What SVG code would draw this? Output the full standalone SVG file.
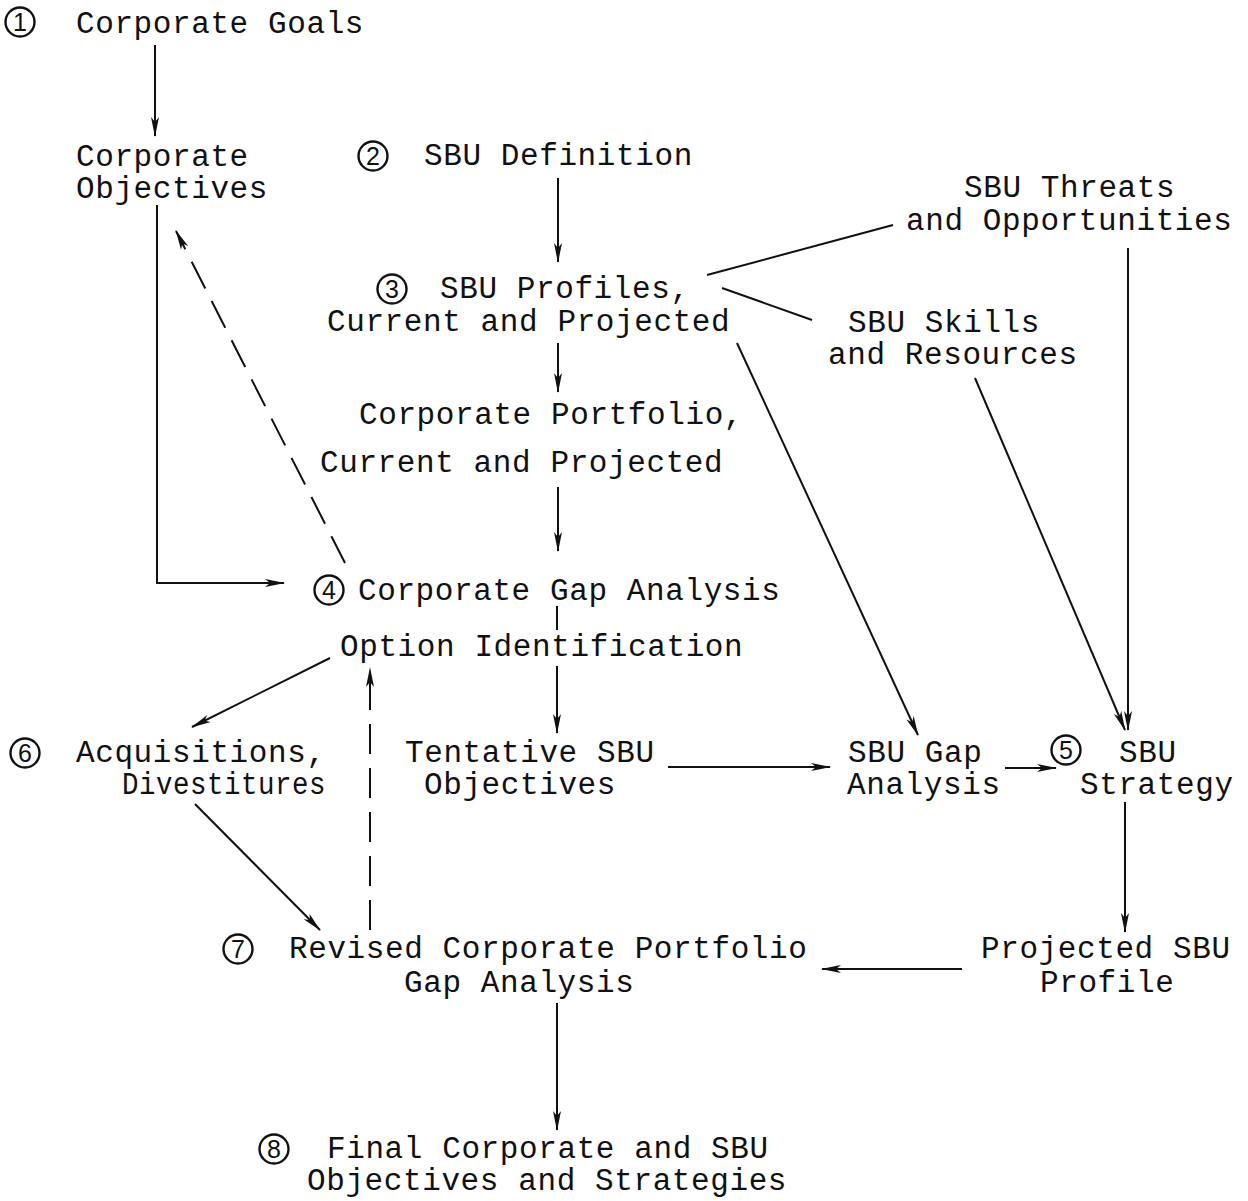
<svg xmlns="http://www.w3.org/2000/svg" width="1248" height="1201" viewBox="0 0 1248 1201">
<style>
text{font-family:"Liberation Mono","Courier New",monospace;font-size:31px;letter-spacing:0.6px;fill:#111}
.n{font-family:"Liberation Sans",Arial,sans-serif;font-size:25px;letter-spacing:0;text-anchor:middle}
.c{fill:none;stroke:#111;stroke-width:2.4}
.l{fill:none;stroke:#111;stroke-width:2}
.d{stroke-dasharray:30 14}
</style>
<defs>
<marker id="a" viewBox="0 0 20 10" refX="19" refY="5" markerWidth="20" markerHeight="10" markerUnits="userSpaceOnUse" orient="auto">
<path d="M0,1 L20,5 L0,9 L5,5 Z" fill="#111"/>
</marker>
</defs>
<rect width="1248" height="1201" fill="#fff"/>
<g id="connectors">
<path class="l" d="M155,45 V136" marker-end="url(#a)"/>
<path class="l" d="M157,205 V583 H284" marker-end="url(#a)"/>
<path class="l d" d="M345,563 L176,231" marker-end="url(#a)"/>
<path class="l" d="M558,178 V262" marker-end="url(#a)"/>
<path class="l" d="M707,275 L893,225"/>
<path class="l" d="M722,288 L812,320"/>
<path class="l" d="M558,343 V392" marker-end="url(#a)"/>
<path class="l" d="M558,487 V551" marker-end="url(#a)"/>
<path class="l" d="M557,606 V630"/>
<path class="l" d="M557,666 V733" marker-end="url(#a)"/>
<path class="l" d="M330,658 L192,727" marker-end="url(#a)"/>
<path class="l d" d="M370,930 V668" marker-end="url(#a)"/>
<path class="l" d="M195,804 L320,930" marker-end="url(#a)"/>
<path class="l" d="M668,767 H830" marker-end="url(#a)"/>
<path class="l" d="M1005,768 H1056" marker-end="url(#a)"/>
<path class="l" d="M737,343 L918,735" marker-end="url(#a)"/>
<path class="l" d="M975,378 L1125,730" marker-end="url(#a)"/>
<path class="l" d="M1128,248 V730" marker-end="url(#a)"/>
<path class="l" d="M1125,802 V932" marker-end="url(#a)"/>
<path class="l" d="M962,969 H822" marker-end="url(#a)"/>
<path class="l" d="M557,1003 V1130" marker-end="url(#a)"/>
</g>
<g id="n1"><circle class="c" cx="20" cy="22" r="14.5"/><text class="n" x="20" y="31">1</text><text x="76" y="33">Corporate Goals</text></g>
<g id="obj"><text x="76" y="166">Corporate</text><text x="76" y="198">Objectives</text></g>
<g id="n2"><circle class="c" cx="373" cy="156" r="14.5"/><text class="n" x="373" y="165">2</text><text x="424" y="165">SBU Definition</text></g>
<g id="threats"><text x="964" y="197">SBU Threats</text><text x="906" y="230">and Opportunities</text></g>
<g id="n3"><circle class="c" cx="392" cy="289" r="14.5"/><text class="n" x="392" y="298">3</text><text x="440" y="298">SBU Profiles,</text><text x="327" y="331">Current and Projected</text></g>
<g id="skills"><text x="848" y="332">SBU Skills</text><text x="828" y="364">and Resources</text></g>
<g id="portfolio"><text x="359" y="424">Corporate Portfolio,</text><text x="320" y="472">Current and Projected</text></g>
<g id="n4"><circle class="c" cx="329" cy="590" r="14.5"/><text class="n" x="329" y="599">4</text><text x="358" y="600">Corporate Gap Analysis</text></g>
<g id="option"><text x="340" y="656">Option Identification</text></g>
<g id="n6"><circle class="c" cx="25" cy="753" r="14.5"/><text class="n" x="25" y="762">6</text><text x="76" y="762">Acquisitions,</text><text x="122" y="794" textLength="204" lengthAdjust="spacingAndGlyphs">Divestitures</text></g>
<g id="tentative"><text x="405" y="762">Tentative SBU</text><text x="424" y="794">Objectives</text></g>
<g id="sbugap"><text x="848" y="762">SBU Gap</text><text x="847" y="794">Analysis</text></g>
<g id="n5"><circle class="c" cx="1066" cy="750" r="14.5"/><text class="n" x="1066" y="759">5</text><text x="1119" y="762">SBU</text><text x="1080" y="794">Strategy</text></g>
<g id="n7"><circle class="c" cx="238" cy="949" r="14.5"/><text class="n" x="238" y="958">7</text><text x="289" y="958">Revised Corporate Portfolio</text><text x="404" y="992">Gap Analysis</text></g>
<g id="projected"><text x="981" y="958">Projected SBU</text><text x="1040" y="992">Profile</text></g>
<g id="n8"><circle class="c" cx="274" cy="1149" r="14.5"/><text class="n" x="274" y="1158">8</text><text x="327" y="1158">Final Corporate and SBU</text><text x="307" y="1190">Objectives and Strategies</text></g>
</svg>
